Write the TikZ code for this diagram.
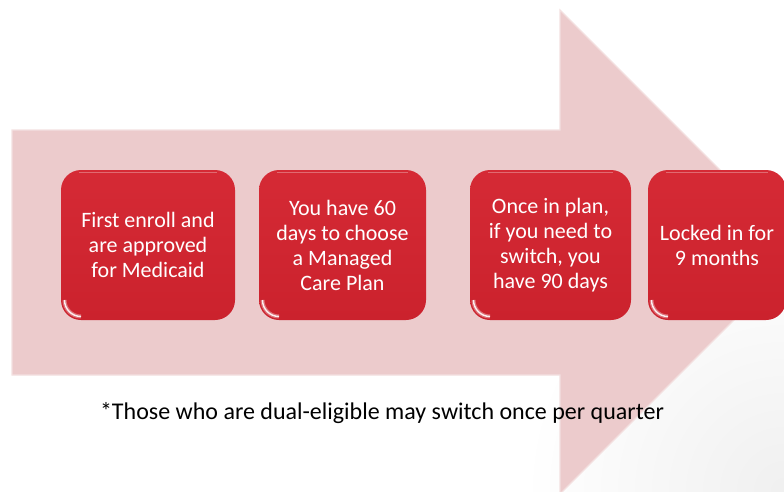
\documentclass[tikz,border=0pt]{standalone}
\usepackage{fontspec}
\setmainfont{Carlito}
\usetikzlibrary{calc}
\definecolor{arrowpink}{RGB}{236,203,204}
\definecolor{arrowedge}{RGB}{243,224,224}
\definecolor{boxred}{RGB}{208,37,48}
\definecolor{boxredtop}{RGB}{213,42,53}
\definecolor{boxredbot}{RGB}{203,34,45}
\begin{document}
\begin{tikzpicture}[x=1pt,y=-1pt,
  stepbox/.style={top color=boxredtop, bottom color=boxredbot,
    rounded corners=20pt, text=white, align=center, inner sep=0pt,
    minimum height=150pt,
    font=\fontsize{22}{25}\selectfont,
    path picture={
      % soft rim along the top edge
      \draw[white, opacity=0.30, line width=1.5pt]
        ($(path picture bounding box.north west)+(18,2.5)$) --
        ($(path picture bounding box.north east)+(-18,2.5)$);
      % glossy glint in the lower left corner
      \draw[white, opacity=0.35, line width=4pt]
        ($(path picture bounding box.south west)+(3.5,-20)$)
        arc[start angle=180, end angle=90, radius=16.5];
      \draw[white, opacity=0.9, line width=1.4pt]
        ($(path picture bounding box.south west)+(3.5,-20)$)
        arc[start angle=180, end angle=90, radius=16.5];
    }},
  note/.style={font=\fontsize{24}{28}\selectfont, text=black}]
\useasboundingbox (0,0) rectangle (784,491);
\clip (0,0) rectangle (784,491);

% faint grey vignette in the lower right corner
\shade[inner color=black!6, outer color=white] (784,491) circle[radius=260];

% large background arrow
\fill[arrowpink, draw=arrowedge, line width=1.2pt]
  (12,130) -- (560,130) -- (560,10) -- (802,252) -- (560,494)
  -- (560,375) -- (12,375) -- cycle;

% the four steps
\node[stepbox, minimum width=174pt] (b1) at (148,245)
  {First enroll and\\are approved\\for Medicaid};
\node[stepbox, minimum width=167pt] (b2) at (342.5,245)
  {You have 60\\days to choose\\a Managed\\Care Plan};
\node[stepbox, minimum width=161pt] (b3) at (550.5,245)
  {Once in plan,\\if you need to\\switch, you\\have 90 days};
\node[stepbox, minimum width=138pt] (b4) at (717,245)
  {Locked in for\\9 months};

% footnote
\node[note] (fn) at (382,413)
  {*Those who are dual-eligible may switch once per quarter};
\end{tikzpicture}
\end{document}
